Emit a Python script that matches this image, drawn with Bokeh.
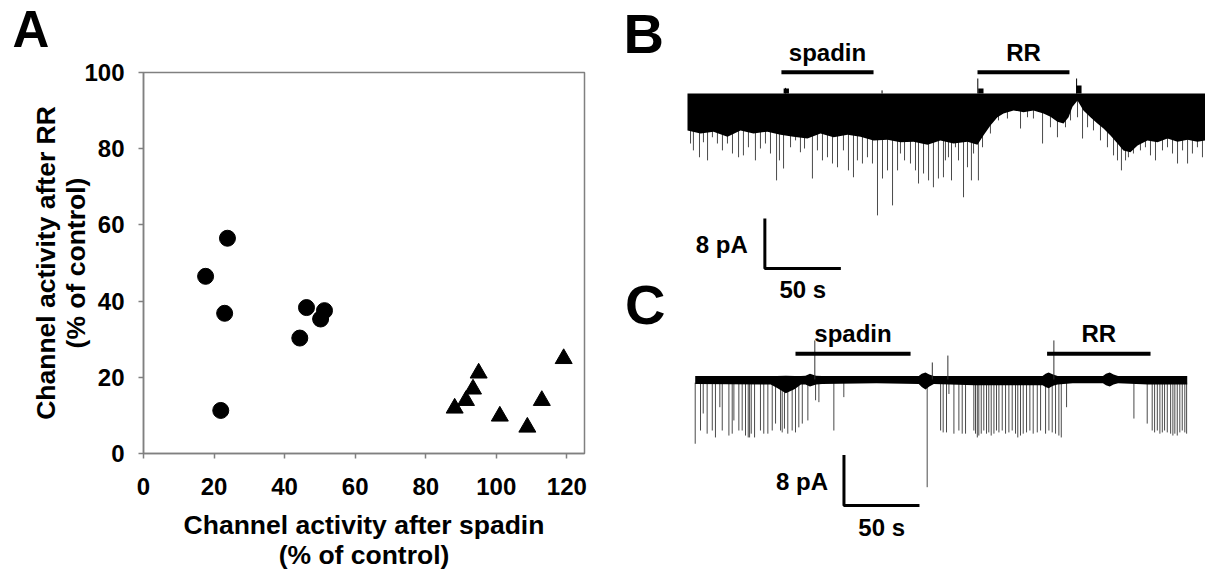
from bokeh.plotting import figure
from bokeh.models import Range1d, FixedTicker
from bokeh.layouts import row, column
from bokeh.embed import file_html
from bokeh.resources import INLINE
from bokeh.core.properties import value

FONT = "Liberation Sans"

# ---------------- Panel A data (% of control) ----------------
spadin_pct_circle = [17.6, 23.8, 23.0, 21.9, 46.2, 51.3, 50.2, 44.3]
rr_pct_circle = [46.5, 56.5, 36.8, 11.3, 38.3, 37.5, 35.3, 30.3]
spadin_pct_triangle = [88.2, 91.4, 93.4, 95.0, 101.0, 108.8, 112.9, 119.1]
rr_pct_triangle = [11.9, 13.9, 16.9, 21.1, 9.8, 6.9, 13.9, 24.9]
x_ticks = [0, 20, 40, 60, 80, 100, 120]
y_ticks = [0, 20, 40, 60, 80, 100]

# ---------------- Panel B trace (time s, current pA) ----------------
b_env_t = [0, 8.6, 17.1, 26.3, 34.9, 43.4, 52.6, 61.2, 69.7, 78.9, 87.5, 96.1, 105.3, 113.8,
           122.4, 131.6, 140.1, 148.7, 157.9, 166.4, 175.0, 184.2, 190.8, 194.7, 199.3, 203.9,
           207.9, 214.5, 221.1, 227.6, 234.2, 238.8, 243.4, 247.4, 250.7, 253.3, 256.6, 260.5,
           265.1, 269.7, 273.7, 278.3, 282.9, 286.8, 291.4, 296.1, 302.6, 309.2, 315.8, 322.4,
           329.0, 335.5, 340.8]
b_env_pa = [-5.9, -6.4, -6.1, -6.9, -5.9, -6.4, -6.1, -6.6, -6.9, -7.2, -6.4, -7.0, -6.6, -6.9,
            -7.5, -7.4, -7.8, -7.7, -8.2, -7.5, -8.0, -7.7, -8.2, -6.7, -5.1, -3.8,
            -3.2, -2.7, -3.0, -2.7, -3.2, -3.7, -4.5, -4.8, -3.8, -2.1, -1.1, -2.7,
            -3.8, -4.8, -5.6, -6.7, -8.0, -9.1, -9.4, -8.3, -7.5, -7.8, -7.2, -7.7,
            -7.4, -7.7, -7.5]
b_spike_t = [2.0, 3.9, 7.9, 10.5, 13.2, 16.4, 19.7, 23.0, 26.3, 29.6,
             33.6, 36.8, 40.1, 44.7, 48.0, 51.3, 54.6, 58.6, 60.5, 63.2,
             67.8, 71.1, 74.3, 77.0, 82.2, 85.5, 88.8, 92.1, 95.4, 98.7,
             102.6, 105.9, 109.2, 111.8, 115.1, 118.4, 121.7, 125.0, 128.3, 131.6,
             134.9, 138.2, 140.1, 142.8, 146.7, 150.0, 152.0, 155.3, 158.6, 161.8,
             165.1, 168.4, 169.7, 171.7, 173.7, 176.3, 178.3, 181.6, 184.2, 186.8,
             188.2, 191.4, 194.1, 199.3, 204.6, 210.5, 219.1, 223.7, 227.6, 233.6,
             238.8, 243.4, 248.7, 252.0, 256.6, 259.9, 263.2, 267.1, 271.7, 276.3,
             280.3, 282.9, 285.5, 288.2, 290.1, 293.4, 298.0, 301.3, 304.6, 307.9,
             312.5, 315.8, 319.1, 322.4, 325.7, 329.0, 332.2, 335.5, 338.8]
b_spike_pa = [-8.0, -9.1, -10.2, -7.8, -10.7, -7.0, -8.0, -9.1, -8.0, -9.6,
              -10.2, -9.9, -8.6, -10.7, -8.8, -8.0, -9.6, -13.9, -10.7, -12.0,
              -8.6, -7.5, -9.4, -8.8, -13.6, -9.1, -10.7, -10.2, -11.2, -11.8,
              -9.1, -12.3, -13.4, -10.7, -11.2, -10.2, -11.2, -19.5, -13.6, -12.3,
              -17.9, -12.3, -9.6, -10.7, -11.2, -12.3, -14.4, -12.8, -13.9, -15.0,
              -13.6, -13.4, -10.7, -10.2, -13.9, -8.6, -10.7, -16.6, -11.8, -13.9,
              -9.6, -13.9, -8.6, -6.4, -4.3, -4.0, -5.6, -3.8, -4.0, -8.0,
              -5.4, -7.0, -5.4, -4.3, -3.8, -7.2, -5.4, -5.9, -7.5, -8.6,
              -9.9, -10.7, -12.3, -10.7, -10.2, -9.6, -9.1, -8.6, -9.9, -10.7,
              -9.1, -8.6, -9.6, -11.2, -9.1, -11.2, -9.6, -8.6, -10.2]
b_up_t = [64.5, 128.0, 191.0, 256.0]
b_up_pa = [0.9, 0.5, 2.4, 2.4]
b_blob_t = [65.0, 193.0, 257.5]
b_blob_pa = [0.8, 0.8, 1.3]
b_drug_on = [61.8, 190.8]
b_drug_off = [122.4, 251.3]

# ---------------- Panel C trace (time s, current pA) ----------------
c_band_t = [0, 50, 54, 60, 66, 70, 73, 76, 80, 84, 120, 148, 150, 152.5, 155, 158, 185, 230,
            232, 234, 237, 240, 250, 270, 272, 274.5, 277, 280, 300, 325.8]
c_band_hi = [0.55, 0.55, 0.55, 0.6, 0.55, 0.55, 0.6, 0.9, 0.6, 0.55, 0.55, 0.55, 0.9, 1.1, 0.8,
             0.55, 0.55, 0.55, 0.9, 1.1, 0.8, 0.55, 0.55, 0.55, 0.9, 1.1, 0.8, 0.55, 0.55, 0.55]
c_band_lo = [-0.7, -0.8, -1.3, -2.2, -1.5, -0.8, -0.8, -1.1, -0.8, -0.7, -0.6, -0.7, -1.2, -1.6,
             -1.1, -0.7, -0.9, -0.9, -1.2, -1.4, -1.0, -0.8, -0.6, -0.6, -0.9, -1.1, -0.8, -0.6,
             -0.8, -0.8]
c_spike_t = [0.0, 3.5, 5.3, 7.9, 11.3, 13.4, 16.3, 17.9, 22.3, 24.5,
             25.6, 28.9, 31.1, 33.3, 35.1, 36.0, 37.1, 39.3, 43.2, 45.4,
             48.1, 51.0, 53.2, 56.5, 57.6, 59.1, 61.3, 64.2, 66.4, 68.6,
             70.9, 74.6, 79.7, 81.9, 91.8, 98.4, 153.6, 162.5, 164.2, 166.4,
             168.0, 171.3, 174.6, 176.8, 179.0, 184.5, 185.6, 186.8, 187.8, 189.4,
             191.1, 192.9, 194.4, 196.0, 197.8, 199.5, 201.1, 203.3, 205.5, 207.7,
             209.9, 212.1, 213.6, 215.4, 217.2, 219.4, 221.6, 223.8, 226.5, 228.7,
             232.0, 234.2, 236.4, 238.6, 240.8, 242.4, 245.9, 290.5, 299.3, 302.6,
             304.2, 306.0, 307.7, 309.3, 310.8, 312.6, 314.8, 316.3, 317.6, 319.2,
             320.9, 322.5, 324.2, 325.4]
c_spike_pa = [-10.2, -8.1, -5.4, -8.6, -8.1, -9.2, -4.4, -8.1, -8.9, -8.6,
              -6.5, -8.1, -8.1, -8.9, -9.2, -9.2, -8.6, -9.2, -8.1, -8.6,
              -8.6, -8.1, -7.0, -8.1, -8.4, -7.8, -8.6, -8.1, -8.4, -7.6,
              -7.0, -6.5, -3.3, -3.6, -8.1, -2.8, -17.1, -8.1, -8.4, -8.4,
              -2.3, -8.6, -8.1, -8.6, -8.6, -8.1, -8.6, -9.2, -8.9, -8.6,
              -8.1, -8.6, -8.4, -8.9, -8.6, -8.1, -8.4, -8.1, -8.6, -8.4,
              -8.1, -8.6, -9.2, -8.9, -8.6, -8.4, -8.1, -8.6, -8.4, -8.1,
              -8.6, -8.1, -8.4, -8.6, -8.9, -9.2, -4.4, -6.2, -7.0, -8.1,
              -8.4, -8.1, -8.6, -8.4, -8.1, -8.4, -8.6, -8.9, -8.6, -8.9,
              -8.4, -8.1, -8.4, -8.6]
c_up_t = [79.2, 157.0, 167.3, 237.5]
c_up_pa = [6.2, 2.7, 3.8, 6.2]
c_drug_on = [66.4, 233.0]
c_drug_off = [142.6, 301.5]

drug_names = ["spadin", "RR"]
scale_pa = 8
scale_s = 50

H = 578
HEAD = 57          # strip above panel A holding the panel letter
WA = 604

# ================= Panel letter strip for A =================
fa = figure(width=WA, height=HEAD, x_range=Range1d(0, WA), y_range=Range1d(HEAD, 0),
            x_axis_type=None, y_axis_type=None, output_backend="svg", toolbar_location=None,
            min_border=0)
fa.outline_line_color = None
fa.background_fill_color = "white"
fa.border_fill_color = "white"
fa.text(x=[12], y=[28.5], text=["A"], text_align="left", text_baseline="middle",
        text_font=value(FONT), text_font_style="bold", text_font_size="51px",
        text_color="black")

# ================= Panel A =================
pa = figure(width=WA, height=H - HEAD, x_range=Range1d(0, 125), y_range=Range1d(0, 100),
            output_backend="svg", toolbar_location=None,
            min_border_left=143, min_border_right=20, min_border_top=72 - HEAD,
            min_border_bottom=H - 453)
pa.grid.visible = False
pa.outline_line_color = "#808080"
pa.outline_line_width = 1.5
pa.background_fill_color = "white"
pa.border_fill_color = "white"

pa.xaxis.ticker = FixedTicker(ticks=x_ticks)
pa.yaxis.ticker = FixedTicker(ticks=y_ticks)
for ax in (pa.xaxis[0], pa.yaxis[0]):
    ax.axis_line_color = "#808080"
    ax.axis_line_width = 1.5
    ax.major_tick_line_color = "#808080"
    ax.major_tick_line_width = 1.5
    ax.major_tick_out = 5
    ax.major_tick_in = 0
    ax.minor_tick_line_color = None
    ax.major_label_text_font = FONT
    ax.major_label_text_font_size = "24px"
    ax.major_label_text_font_style = "bold"
    ax.major_label_text_color = "black"
    ax.axis_label_text_font = FONT
    ax.axis_label_text_font_size = "26.5px"
    ax.axis_label_text_font_style = "bold"
    ax.axis_label_text_color = "black"
    ax.axis_label_text_line_height = 1.0

pa.xaxis.axis_label = "Channel activity after spadin\n(% of control)"
pa.yaxis.axis_label = "Channel activity after RR\n(% of control)"
pa.xaxis.major_label_standoff = 19
pa.yaxis.major_label_standoff = 14
pa.xaxis.axis_label_standoff = 12
pa.yaxis.axis_label_standoff = -10

pa.scatter(spadin_pct_circle, rr_pct_circle, marker="circle", size=16,
           fill_color="black", line_color="black")
pa.scatter(spadin_pct_triangle, rr_pct_triangle, marker="triangle", size=17,
           fill_color="black", line_color="black")

# ================= Panels B and C =================
tr = figure(width=601, height=H, x_range=Range1d(-54.6, 340.8), y_range=Range1d(-77.6, 14.88),
            x_axis_type=None, y_axis_type=None, output_backend="svg", toolbar_location=None,
            min_border=0)
tr.outline_line_color = None
tr.background_fill_color = "white"
tr.border_fill_color = "white"
tr.extra_x_ranges = {"tc": Range1d(-60.07, 337.9)}
tr.extra_y_ranges = {"ic": Range1d(-31.59, 60.16)}

SPIKE_COL = "#4a4a4a"
txt = dict(text_font=value(FONT), text_font_style="bold", text_color="black")

# --- B ---
tr.segment(x0=b_spike_t, y0=[-1.0] * len(b_spike_t), x1=b_spike_t, y1=b_spike_pa,
           line_color=SPIKE_COL, line_width=1)
tr.varea(x=b_env_t, y1=b_env_pa, y2=[0.0] * len(b_env_t), fill_color="black")
tr.segment(x0=b_up_t, y0=[0.0] * len(b_up_t), x1=b_up_t, y1=b_up_pa,
           line_color="black", line_width=1)
tr.vbar(x=b_blob_t, top=b_blob_pa, bottom=0.0, width=3.5, fill_color="black", line_color=None)

b_bar_y = 3.4
tr.segment(x0=b_drug_on, y0=[b_bar_y] * 2, x1=b_drug_off, y1=[b_bar_y] * 2,
           line_color="black", line_width=4)
tr.text(x=[(a + b) / 2 for a, b in zip(b_drug_on, b_drug_off)], y=[b_bar_y + 3.15] * 2,
        text=drug_names, text_align="center", text_baseline="alphabetic",
        text_font_size="24px", **txt)

b_sx, b_sy = 50.9, -28.0
tr.line(x=[b_sx, b_sx, b_sx + scale_s], y=[b_sy + scale_pa, b_sy, b_sy],
        line_color="black", line_width=3)
tr.text(x=[b_sx], y=[b_sy], text=[f"{scale_pa} pA"], x_offset=-17, y_offset=-24,
        text_align="right", text_baseline="alphabetic", text_font_size="24px", **txt)
tr.text(x=[b_sx + scale_s / 2], y=[b_sy], text=[f"{scale_s} s"], y_offset=21,
        text_align="center", text_baseline="alphabetic", text_font_size="24px", **txt)
tr.text(x=[-42.1], y=[9.6], text=["B"], text_align="left", text_baseline="alphabetic",
        text_font_size="56px", **txt)

# --- C ---
rc = dict(x_range_name="tc", y_range_name="ic")
tr.segment(x0=c_spike_t, y0=[-0.5] * len(c_spike_t), x1=c_spike_t, y1=c_spike_pa,
           line_color=SPIKE_COL, line_width=1, **rc)
tr.varea(x=c_band_t, y1=c_band_lo, y2=c_band_hi, fill_color="black", **rc)
tr.segment(x0=c_up_t, y0=[0.0] * len(c_up_t), x1=c_up_t, y1=c_up_pa,
           line_color="#333333", line_width=1, **rc)

c_bar_y = 4.1
tr.segment(x0=c_drug_on, y0=[c_bar_y] * 2, x1=c_drug_off, y1=[c_bar_y] * 2,
           line_color="black", line_width=4, **rc)
tr.text(x=[(a + b) / 2 for a, b in zip(c_drug_on, c_drug_off)], y=[c_bar_y + 3.15] * 2,
        text=drug_names, text_align="center", text_baseline="alphabetic",
        text_font_size="24px", **txt, **rc)

c_sx, c_sy = 98.5, -20.0
tr.line(x=[c_sx, c_sx, c_sx + scale_s], y=[c_sy + scale_pa, c_sy, c_sy],
        line_color="black", line_width=3, **rc)
tr.text(x=[c_sx], y=[c_sy], text=[f"{scale_pa} pA"], x_offset=-16, y_offset=-24,
        text_align="right", text_baseline="alphabetic", text_font_size="24px", **txt, **rc)
tr.text(x=[c_sx + scale_s / 2], y=[c_sy], text=[f"{scale_s} s"], y_offset=22,
        text_align="center", text_baseline="alphabetic", text_font_size="24px", **txt, **rc)
tr.text(x=[-46.5], y=[11.9], text=["C"], text_align="left", text_baseline="alphabetic",
        text_font_size="56px", **txt, **rc)

layout = row(column(column(fa), column(pa)), column(tr))
open("out.html", "w").write(file_html(layout, INLINE))
